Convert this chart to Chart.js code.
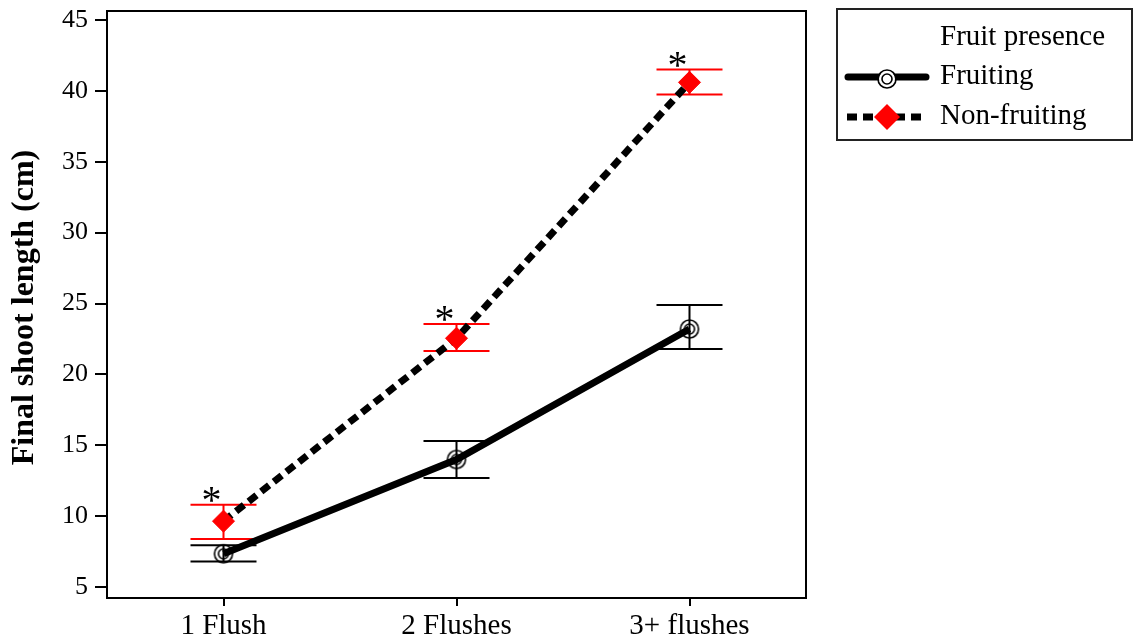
<!DOCTYPE html>
<html>
<head>
<meta charset="utf-8">
<script src="https://cdn.jsdelivr.net/npm/chart.js@4.4.1/dist/chart.umd.min.js"></script>
<style>
html,body{margin:0;padding:0;background:#fff;}
#wrap{width:1134px;height:642px;position:relative;}
</style>
</head>
<body>
<div id="wrap"><canvas id="c" width="1134" height="642"></canvas></div>
<script>
const categories = ['1 Flush', '2 Flushes', '3+ flushes'];
const yTicks = [5, 10, 15, 20, 25, 30, 35, 40, 45];
const fruitingMean = [7.35, 14.0, 23.2];
const fruitingLow = [6.8, 12.7, 21.8];
const fruitingHigh = [7.95, 15.3, 24.9];
const nonFruitingMean = [9.65, 22.55, 40.6];
const nonFruitingLow = [8.4, 21.65, 39.75];
const nonFruitingHigh = [10.8, 23.55, 41.5];
const significant = ['*', '*', '*'];
const seriesNames = ['Fruiting', 'Non-fruiting'];
const legendTitle = 'Fruit presence';
const yTitle = 'Final shoot length (cm)';
const frameTopValue = 45.63;

const FONT = "'Liberation Serif', 'Times New Roman', serif";

function makeRing(){
  const cv = document.createElement('canvas');
  cv.width = 22; cv.height = 22;
  const g = cv.getContext('2d');
  g.strokeStyle = '#000';
  g.lineWidth = 1.6;
  g.beginPath(); g.arc(11, 11, 9, 0, Math.PI*2); g.stroke();
  g.beginPath(); g.arc(11, 11, 5, 0, Math.PI*2); g.stroke();
  return cv;
}
const ring = makeRing();
const zeroPad = () => ({left: 0, top: 0, right: 0, bottom: 0});

const errorBars = {
  id: 'errorBars',
  beforeDatasetsDraw(chart){
    const ctx = chart.ctx, xs = chart.scales.x, ys = chart.scales.y;
    const sets = [
      {lo: fruitingLow, hi: fruitingHigh, color: '#000'},
      {lo: nonFruitingLow, hi: nonFruitingHigh, color: '#ff0000'}
    ];
    ctx.save();
    sets.forEach(s => {
      ctx.strokeStyle = s.color;
      ctx.lineWidth = 2;
      categories.forEach((c, i) => {
        const x = xs.getPixelForValue(i);
        const yl = ys.getPixelForValue(s.lo[i]);
        const yh = ys.getPixelForValue(s.hi[i]);
        ctx.beginPath();
        ctx.moveTo(x, yl); ctx.lineTo(x, yh);
        ctx.moveTo(x - 33, yl); ctx.lineTo(x + 33, yl);
        ctx.moveTo(x - 33, yh); ctx.lineTo(x + 33, yh);
        ctx.stroke();
      });
    });
    ctx.restore();
  },
  afterDatasetsDraw(chart){
    const ctx = chart.ctx, xs = chart.scales.x, ys = chart.scales.y;
    ctx.save();
    ctx.fillStyle = '#000';
    ctx.font = '40px ' + FONT;
    ctx.textAlign = 'center';
    ctx.textBaseline = 'alphabetic';
    categories.forEach((c, i) => {
      const x = xs.getPixelForValue(i) - 12;
      const y = ys.getPixelForValue(nonFruitingHigh[i]);
      ctx.fillText(significant[i], x, y + 8);
    });
    ctx.restore();
  },
  afterDraw(chart){
    const ctx = chart.ctx, a = chart.chartArea, ys = chart.scales.y;
    const top = Math.round(ys.getPixelForValue(frameTopValue));
    ctx.save();
    ctx.strokeStyle = '#000';
    ctx.lineWidth = 2;
    ctx.strokeRect(a.left, top, a.right - a.left, a.bottom - top);
    // legend
    ctx.strokeStyle = '#222';
    ctx.lineWidth = 2;
    ctx.strokeRect(837, 9, 295, 131);
    ctx.fillStyle = '#000';
    ctx.font = '29px ' + FONT;
    ctx.textAlign = 'left';
    ctx.textBaseline = 'middle';
    ctx.fillText(legendTitle, 940, 37);
    ctx.fillText(seriesNames[0], 940, 76);
    ctx.fillText(seriesNames[1], 940, 116);
    // fruiting sample
    ctx.strokeStyle = '#000';
    ctx.lineWidth = 7;
    ctx.lineCap = 'round';
    ctx.beginPath(); ctx.moveTo(848, 77); ctx.lineTo(926, 77); ctx.stroke();
    ctx.lineCap = 'butt';
    ctx.fillStyle = '#fff';
    ctx.beginPath(); ctx.arc(887, 79, 8, 0, Math.PI*2); ctx.fill();
    ctx.drawImage(ring, 876, 68);
    // non-fruiting sample
    ctx.setLineDash([10, 6]);
    ctx.lineWidth = 7;
    ctx.beginPath(); ctx.moveTo(847, 117); ctx.lineTo(927, 117); ctx.stroke();
    ctx.setLineDash([]);
    ctx.fillStyle = '#ff0000';
    ctx.beginPath();
    ctx.moveTo(887, 104); ctx.lineTo(900, 117); ctx.lineTo(887, 130); ctx.lineTo(874, 117);
    ctx.closePath(); ctx.fill();
    ctx.restore();
  }
};

new Chart(document.getElementById('c'), {
  type: 'line',
  data: {
    labels: categories,
    datasets: [
      {
        label: seriesNames[0],
        data: fruitingMean,
        borderColor: '#000',
        borderWidth: 7,
        pointStyle: ring,
        pointRadius: 10,
        tension: 0,
        fill: false
      },
      {
        label: seriesNames[1],
        data: nonFruitingMean,
        borderColor: '#000',
        borderWidth: 7,
        borderDash: [10, 6],
        pointStyle: 'rectRot',
        pointRadius: 11,
        pointBackgroundColor: '#ff0000',
        pointBorderColor: '#ff0000',
        pointBorderWidth: 1,
        tension: 0,
        fill: false
      }
    ]
  },
  options: {
    responsive: false,
    animation: false,
    layout: {padding: {left: 0, right: 328, top: 10, bottom: 0}},
    plugins: {legend: {display: false}, tooltip: {enabled: false}},
    scales: {
      x: {
        type: 'category',
        offset: true,
        afterFit(s){ s.height = 44; s.paddingLeft = 0; s.paddingRight = 0; s.getPadding = zeroPad; },
        grid: {display: true, drawOnChartArea: false, drawTicks: true, tickLength: 8, color: '#000', lineWidth: 2},
        border: {display: true, color: '#000', width: 2},
        ticks: {color: '#000', font: {family: FONT, size: 29}, padding: 3}
      },
      y: {
        min: 4.23,
        max: 45.21,
        afterFit(s){ s.width = 107; s.paddingTop = 0; s.paddingBottom = 0; s.getPadding = zeroPad; },
        afterBuildTicks(s){ s.ticks = yTicks.map(v => ({value: v})); },
        grid: {display: true, drawOnChartArea: false, drawTicks: true, tickLength: 12, color: '#000', lineWidth: 2},
        border: {display: true, color: '#000', width: 2},
        ticks: {color: '#000', font: {family: FONT, size: 26}, padding: 7},
        title: {display: true, text: yTitle, color: '#000', font: {family: FONT, size: 32, weight: 'bold'}, padding: {top: 6, bottom: 0}}
      }
    }
  },
  plugins: [errorBars]
});
</script>
</body>
</html>
